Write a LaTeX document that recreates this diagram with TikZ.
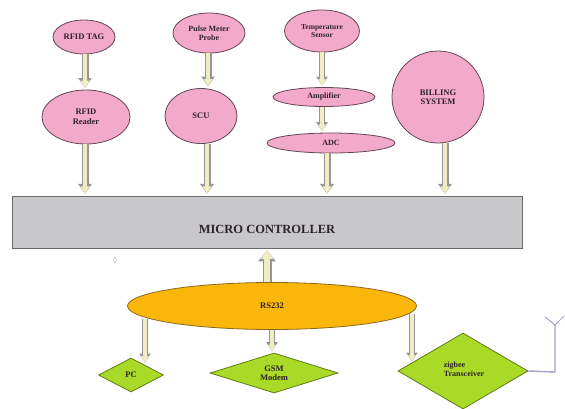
\documentclass[tikz,border=0pt]{standalone}
\usepackage{fontspec}
\setmainfont{Liberation Serif}
\newfontfamily\djv{DejaVu Sans}
\usetikzlibrary{shapes.geometric,arrows.meta}
\definecolor{pinkf}{RGB}{243,170,202}
\definecolor{pinkd}{RGB}{100,70,85}
\definecolor{oranf}{RGB}{250,182,10}
\definecolor{orand}{RGB}{140,105,30}
\definecolor{greenf}{RGB}{170,218,40}
\definecolor{greend}{RGB}{95,125,20}
\definecolor{mcf}{RGB}{200,200,202}
\definecolor{mcd}{RGB}{105,105,108}
\definecolor{cream}{RGB}{240,236,196}
\definecolor{arrd}{RGB}{150,150,150}
\definecolor{antc}{RGB}{160,160,200}
\definecolor{txt}{RGB}{45,35,40}
\tikzset{
  lbl/.style={font=\bfseries\fontsize{8.5}{9.5}\selectfont, text=txt, align=center},
  pel/.style={ellipse, draw=pinkd, fill=pinkf, line width=0.8pt, inner sep=0pt, lbl},
  gdia/.style={diamond, draw=greend, fill=greenf, line width=0.8pt, inner sep=0pt, lbl},
  blk/.style={preaction={draw=arrd, line width=7pt, -{Triangle[length=10pt,width=13pt]}},
              draw=cream, line width=4.6pt, -{Triangle[length=7.5pt,width=8.5pt]}, shorten >=1.6pt},
  blks/.style={preaction={draw=arrd, line width=6pt, -{Triangle[length=9pt,width=11pt]}},
              draw=cream, line width=3.8pt, -{Triangle[length=6.5pt,width=7pt]}, shorten >=1.5pt},
  blkb/.style={preaction={draw=arrd, line width=9pt, -{Triangle[length=11pt,width=17pt]}},
              draw=cream, line width=6.4pt, -{Triangle[length=8.5pt,width=12pt]}, shorten >=1.8pt},
}
\begin{document}
\begin{tikzpicture}[x=1pt,y=-1pt]
\useasboundingbox (0,0) rectangle (565,408);
% top row
\node[pel, minimum width=62pt, minimum height=34pt] (tag) at (84,37) {RFID TAG};
\node[pel, minimum width=88pt, minimum height=54pt] (reader) at (86,117) {RFID\\Reader};
\node[pel, minimum width=72pt, minimum height=40pt, font=\bfseries\fontsize{8}{9}\selectfont] (pulse) at (209,33) {Pulse Meter\\Probe};
\node[pel, minimum width=72pt, minimum height=55pt] (scu) at (201,116) {SCU};
\node[pel, minimum width=75pt, minimum height=42pt, font=\bfseries\fontsize{7.5}{8.5}\selectfont] (temp) at (322,31) {Temperature\\Sensor};
\node[pel, minimum width=102pt, minimum height=19pt, font=\bfseries\fontsize{8}{9}\selectfont] (amp) at (324,97) {Amplifier};
\node[pel, minimum width=128pt, minimum height=20pt, font=\bfseries\fontsize{8}{9}\selectfont] (adc) at (331,143) {ADC};
\node[pel, circle, minimum size=92pt] (bill) at (438,97) {BILLING\\SYSTEM};
% micro controller
\node[draw=mcd, fill=mcf, line width=1pt, minimum width=510pt, minimum height=52pt, inner sep=0pt] (mc) at (267,222) {};
\node[font=\bfseries\fontsize{12.5}{13}\selectfont, text=txt, inner sep=0pt] (mct) at (267,229) {MICRO CONTROLLER};
\node[text=arrd, font=\djv\fontsize{7}{7}\selectfont, inner sep=0pt] (dmark) at (115,260) {◊};
% RS232
\node[ellipse, draw=orand, fill=oranf, line width=0.8pt, inner sep=0pt, minimum width=289pt, minimum height=47pt, lbl] (rs) at (272,306) {RS232};
% diamonds
\node[gdia, minimum width=65pt, minimum height=34pt, aspect=1.9] (pc) at (131,375) {PC};
\node[gdia, minimum width=128pt, minimum height=40pt, aspect=3.2] (gsm) at (274,373) {GSM\\Modem};
\node[gdia, minimum width=130pt, minimum height=76pt, aspect=1.7] (zig) at (463,371) {};
\node[lbl, align=left, font=\bfseries\fontsize{8}{9}\selectfont] (zigt) at (464,369) {zigbee\\Transceiver};
% arrow end points on the RS232 rim and on the diamond edges
\coordinate (rspc) at (145,319);
\coordinate (pctop) at (145,364);
\coordinate (rszig) at (412,314);
\coordinate (zigtop) at (412,363);
% arrows
\draw[blk] (tag.south -| 85,0) -- (reader.north -| 85,0);
\draw[blk] (reader.south -| 85,0) -- (mc.north -| 85,0);
\draw[blk] (pulse.south -| 208,0) -- (scu.north -| 208,0);
\draw[blk] (scu.south -| 207,0) -- (mc.north -| 207,0);
\draw[blks] (temp.south -| 322,0) -- (amp.north -| 322,0);
\draw[blks] (amp.south -| 322,0) -- (adc.north -| 322,0);
\draw[blk] (adc.south -| 327,0) -- (mc.north -| 327,0);
\draw[blk] (bill.south -| 445,0) -- (mc.north -| 445,0);
\draw[blkb] (rs.north -| 267,0) -- (mc.south -| 267,0);
\draw[blks] (rspc) -- (pctop);
\draw[blks] (rs.south -| 272,0) -- (gsm.north -| 272,0);
\draw[blks] (rszig) -- (zigtop);
% antenna
\coordinate (antbase) at (555,372);
\coordinate (anttop) at (555,325);
\coordinate (antl) at (545,317);
\coordinate (antr) at (564,316);
\draw[antc, line width=1.4pt] (zig.east) -- (antbase) -- (anttop);
\draw[antc, line width=1pt] (antl) -- (anttop) -- (antr);
\end{tikzpicture}
\end{document}
